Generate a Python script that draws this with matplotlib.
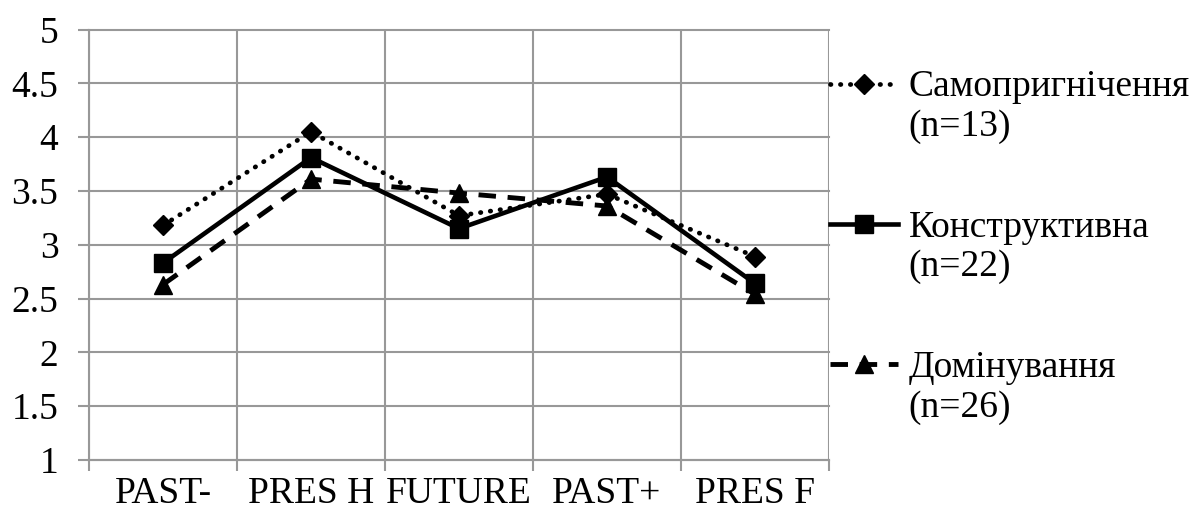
import numpy as np
import matplotlib
matplotlib.use("Agg")
import matplotlib.pyplot as plt
from matplotlib.legend_handler import HandlerLine2D
from matplotlib.ticker import FixedLocator, NullFormatter

# --- Data ---
categories = ["PAST-", "PRES H", "FUTURE", "PAST+", "PRES F"]
self_suppr = [3.18, 4.05, 3.27, 3.47, 2.89]   # Самопригнічення (n=13)
constructive = [2.83, 3.81, 3.15, 3.63, 2.64]  # Конструктивна (n=22)
domination = [2.63, 3.61, 3.48, 3.36, 2.54]    # Домінування (n=26)
labels = ["Самопригнічення\n(n=13)", "Конструктивна\n(n=22)", "Домінування\n(n=26)"]
y_ticks = [1, 1.5, 2, 2.5, 3, 3.5, 4, 4.5, 5]

GRID = "#989898"
FS = 27

plt.rcParams['font.family'] = ['Liberation Serif', 'DejaVu Serif']


class RaisedHandler(HandlerLine2D):
    """Moves the legend handle up so it sits on the first line of the label."""
    def __init__(self, shift, **kw):
        super().__init__(**kw)
        self.shift = shift

    def create_artists(self, legend, orig_handle, xdescent, ydescent,
                       width, height, fontsize, trans):
        arts = super().create_artists(legend, orig_handle, xdescent, ydescent,
                                      width, height, fontsize, trans)
        for a in arts:
            a.set_ydata(np.asarray(a.get_ydata(), dtype=float) + self.shift)
        return arts


fig = plt.figure(figsize=(11.95, 5.15), dpi=100)
ax = fig.add_axes([89 / 1195, 1 - 460 / 515, (829 - 89) / 1195, (460 - 29.5) / 515])

x = np.arange(len(categories))
l1, = ax.plot(x, self_suppr, color="black", lw=3.4, linestyle=(0, (0.1, 2.0)),
              dash_capstyle="round", marker="D", ms=10, zorder=3)
l2, = ax.plot(x, constructive, color="black", lw=3.3, linestyle="-",
              marker="s", ms=13, zorder=4)
l3, = ax.plot(x, domination, color="black", lw=3.5, linestyle=(0, (3.6, 2.4)),
              marker="^", ms=13, zorder=3)

ax.set_xlim(-0.5, len(categories) - 0.5)
ax.set_ylim(1, 5)

ax.set_yticks(y_ticks)
ax.set_yticklabels([f"{v:g}" for v in y_ticks])
ax.set_xticks(x)
ax.set_xticklabels(categories)
ax.xaxis.set_minor_locator(FixedLocator(np.arange(-0.5, len(categories), 1)))
ax.xaxis.set_minor_formatter(NullFormatter())

ax.tick_params(axis="y", which="major", length=8, width=1.5, color=GRID,
               direction="out", pad=14, labelsize=FS)
ax.tick_params(axis="x", which="major", length=0, pad=12, labelsize=FS)
ax.tick_params(axis="x", which="minor", length=8, width=1.5, color=GRID,
               direction="out")

ax.grid(True, axis="y", which="major", color=GRID, lw=1.5)
ax.grid(True, axis="x", which="minor", color=GRID, lw=1.5)
for gl in ax.get_ygridlines() + ax.xaxis.get_minorticklines():
    gl.set_clip_on(False)
ax.set_axisbelow(True)

for side in ["top", "right"]:
    ax.spines[side].set_visible(False)
for side in ["left", "bottom"]:
    ax.spines[side].set_color(GRID)
    ax.spines[side].set_linewidth(1.5)

shift = 0.62 * FS
leg = fig.legend([l1, l2, l3], labels, loc="upper left",
                 bbox_to_anchor=(830 / 1195, 1 - 70 / 515), frameon=False,
                 fontsize=FS, handlelength=1.8, handletextpad=0.3,
                 labelspacing=1.75, borderpad=0, borderaxespad=0,
                 handler_map={l: RaisedHandler(shift) for l in [l1, l2, l3]})

fig.savefig("out.png", dpi=100)
